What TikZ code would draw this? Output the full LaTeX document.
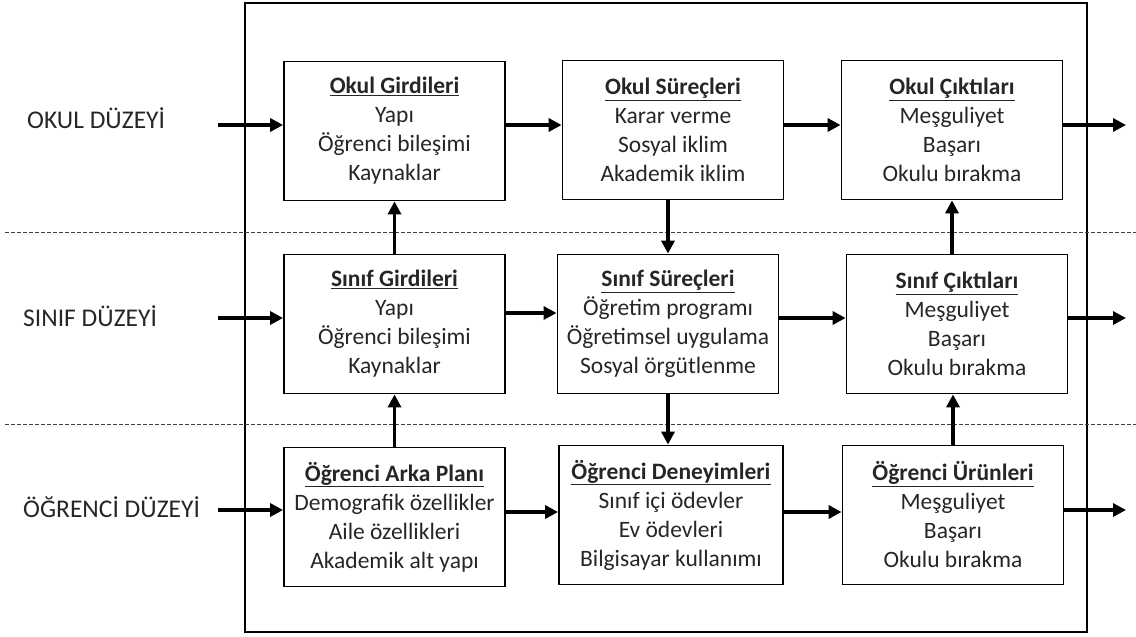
\documentclass[tikz,border=0pt]{standalone}
\usepackage{fontspec}
\setmainfont{Carlito}
\usetikzlibrary{arrows.meta,calc}
\begin{document}
\begin{tikzpicture}[x=1pt,y=-1pt,
  box/.style={draw, line width=1.8pt, minimum width=221pt, minimum height=139pt, align=center, inner sep=0pt, font=\fontsize{23.5}{29}\selectfont, text=black!85},
  arr/.style={line width=3.2pt, -{Triangle[length=13pt,width=13pt]}},
  lvl/.style={anchor=base west, inner sep=0pt, font=\fontsize{25.5}{30}\selectfont, text=black!85},
  sep/.style={dashed, line width=1pt, black!75, dash pattern=on 4pt off 2pt}]
\useasboundingbox (0,0) rectangle (1136,637);
% outer frame
\draw[line width=1.5pt] (245,3) rectangle (1087,632);
% separators
\draw[sep] (5,232) -- (1136,232);
\draw[sep] (5,424) -- (1136,424);
% level labels
\node[lvl] (lokul) at (27,128) {OKUL DÜZEYİ};
\node[lvl] (lsinif) at (23,326) {SINIF DÜZEYİ};
\node[lvl] (logr) at (23,517) {ÖĞRENCİ DÜZEYİ};
% boxes
\node[box] (og) at (394.5,131) {\underline{\textbf{Okul Girdileri}}\\Yapı\\Öğrenci bileşimi\\Kaynaklar};
\node[box] (os) at (673,130) {\underline{\textbf{Okul Süreçleri}}\\Karar verme\\Sosyal iklim\\Akademik iklim};
\node[box] (oc) at (952,130) {\underline{\textbf{Okul Çıktıları}}\\Meşguliyet\\Başarı\\Okulu bırakma};
\node[box] (sg) at (394.5,324) {\underline{\textbf{Sınıf Girdileri}}\\Yapı\\Öğrenci bileşimi\\Kaynaklar};
\node[box] (ss) at (668,324) {\underline{\textbf{Sınıf Süreçleri}}\\Öğretim programı\\Öğretimsel uygulama\\Sosyal örgütlenme};
\node[box] (sc) at (957,324) {\underline{\textbf{Sınıf Çıktıları}}\\Meşguliyet\\Başarı\\Okulu bırakma};
\node[box] (ap) at (394.5,517) {\underline{\textbf{Öğrenci Arka Planı}}\\Demografik özellikler\\Aile özellikleri\\Akademik alt yapı};
\node[box, minimum width=224pt] (od) at (671,515) {\underline{\textbf{Öğrenci Deneyimleri}}\\Sınıf içi ödevler\\Ev ödevleri\\Bilgisayar kullanımı};
\node[box] (ou) at (953,515) {\underline{\textbf{Öğrenci Ürünleri}}\\Meşguliyet\\Başarı\\Okulu bırakma};
% row levels and free ends
\coordinate (r1) at (0,125);
\coordinate (r2) at (0,318);
\coordinate (r2b) at (0,313);
\coordinate (r3) at (0,510);
\coordinate (r3b) at (0,512);
\coordinate (in1) at (218,125);
\coordinate (in2) at (218,318);
\coordinate (in3) at (218,510);
\coordinate (out1) at (1126,125);
\coordinate (out2) at (1126,318);
\coordinate (out3) at (1126,510);
% horizontal arrows
\draw[arr] (in1) -- (og.west |- r1);
\draw[arr] (og.east |- r1) -- (os.west |- r1);
\draw[arr] (os.east |- r1) -- (oc.west |- r1);
\draw[arr] (oc.east |- r1) -- (out1);
\draw[arr] (in2) -- (sg.west |- r2);
\draw[arr] (sg.east |- r2b) -- (ss.west |- r2b);
\draw[arr] (ss.east |- r2) -- (sc.west |- r2);
\draw[arr] (sc.east |- r2) -- (out2);
\draw[arr] (in3) -- (ap.west |- r3);
\draw[arr] (ap.east |- r3b) -- (od.west |- r3b);
\draw[arr] (od.east |- r3b) -- (ou.west |- r3b);
\draw[arr] (ou.east |- r3) -- (out3);
% vertical arrows
\draw[arr] (sg.north) -- (og.south);
\draw[arr] (os.south -| ss.north) -- (ss.north);
\draw[arr] (sc.north -| oc.south) -- (oc.south);
\draw[arr] (ap.north) -- (sg.south);
\draw[arr] (ss.south) -- (ss.south |- od.north);
\draw[arr] (ou.north) -- (ou.north |- sc.south);
\end{tikzpicture}
\end{document}
